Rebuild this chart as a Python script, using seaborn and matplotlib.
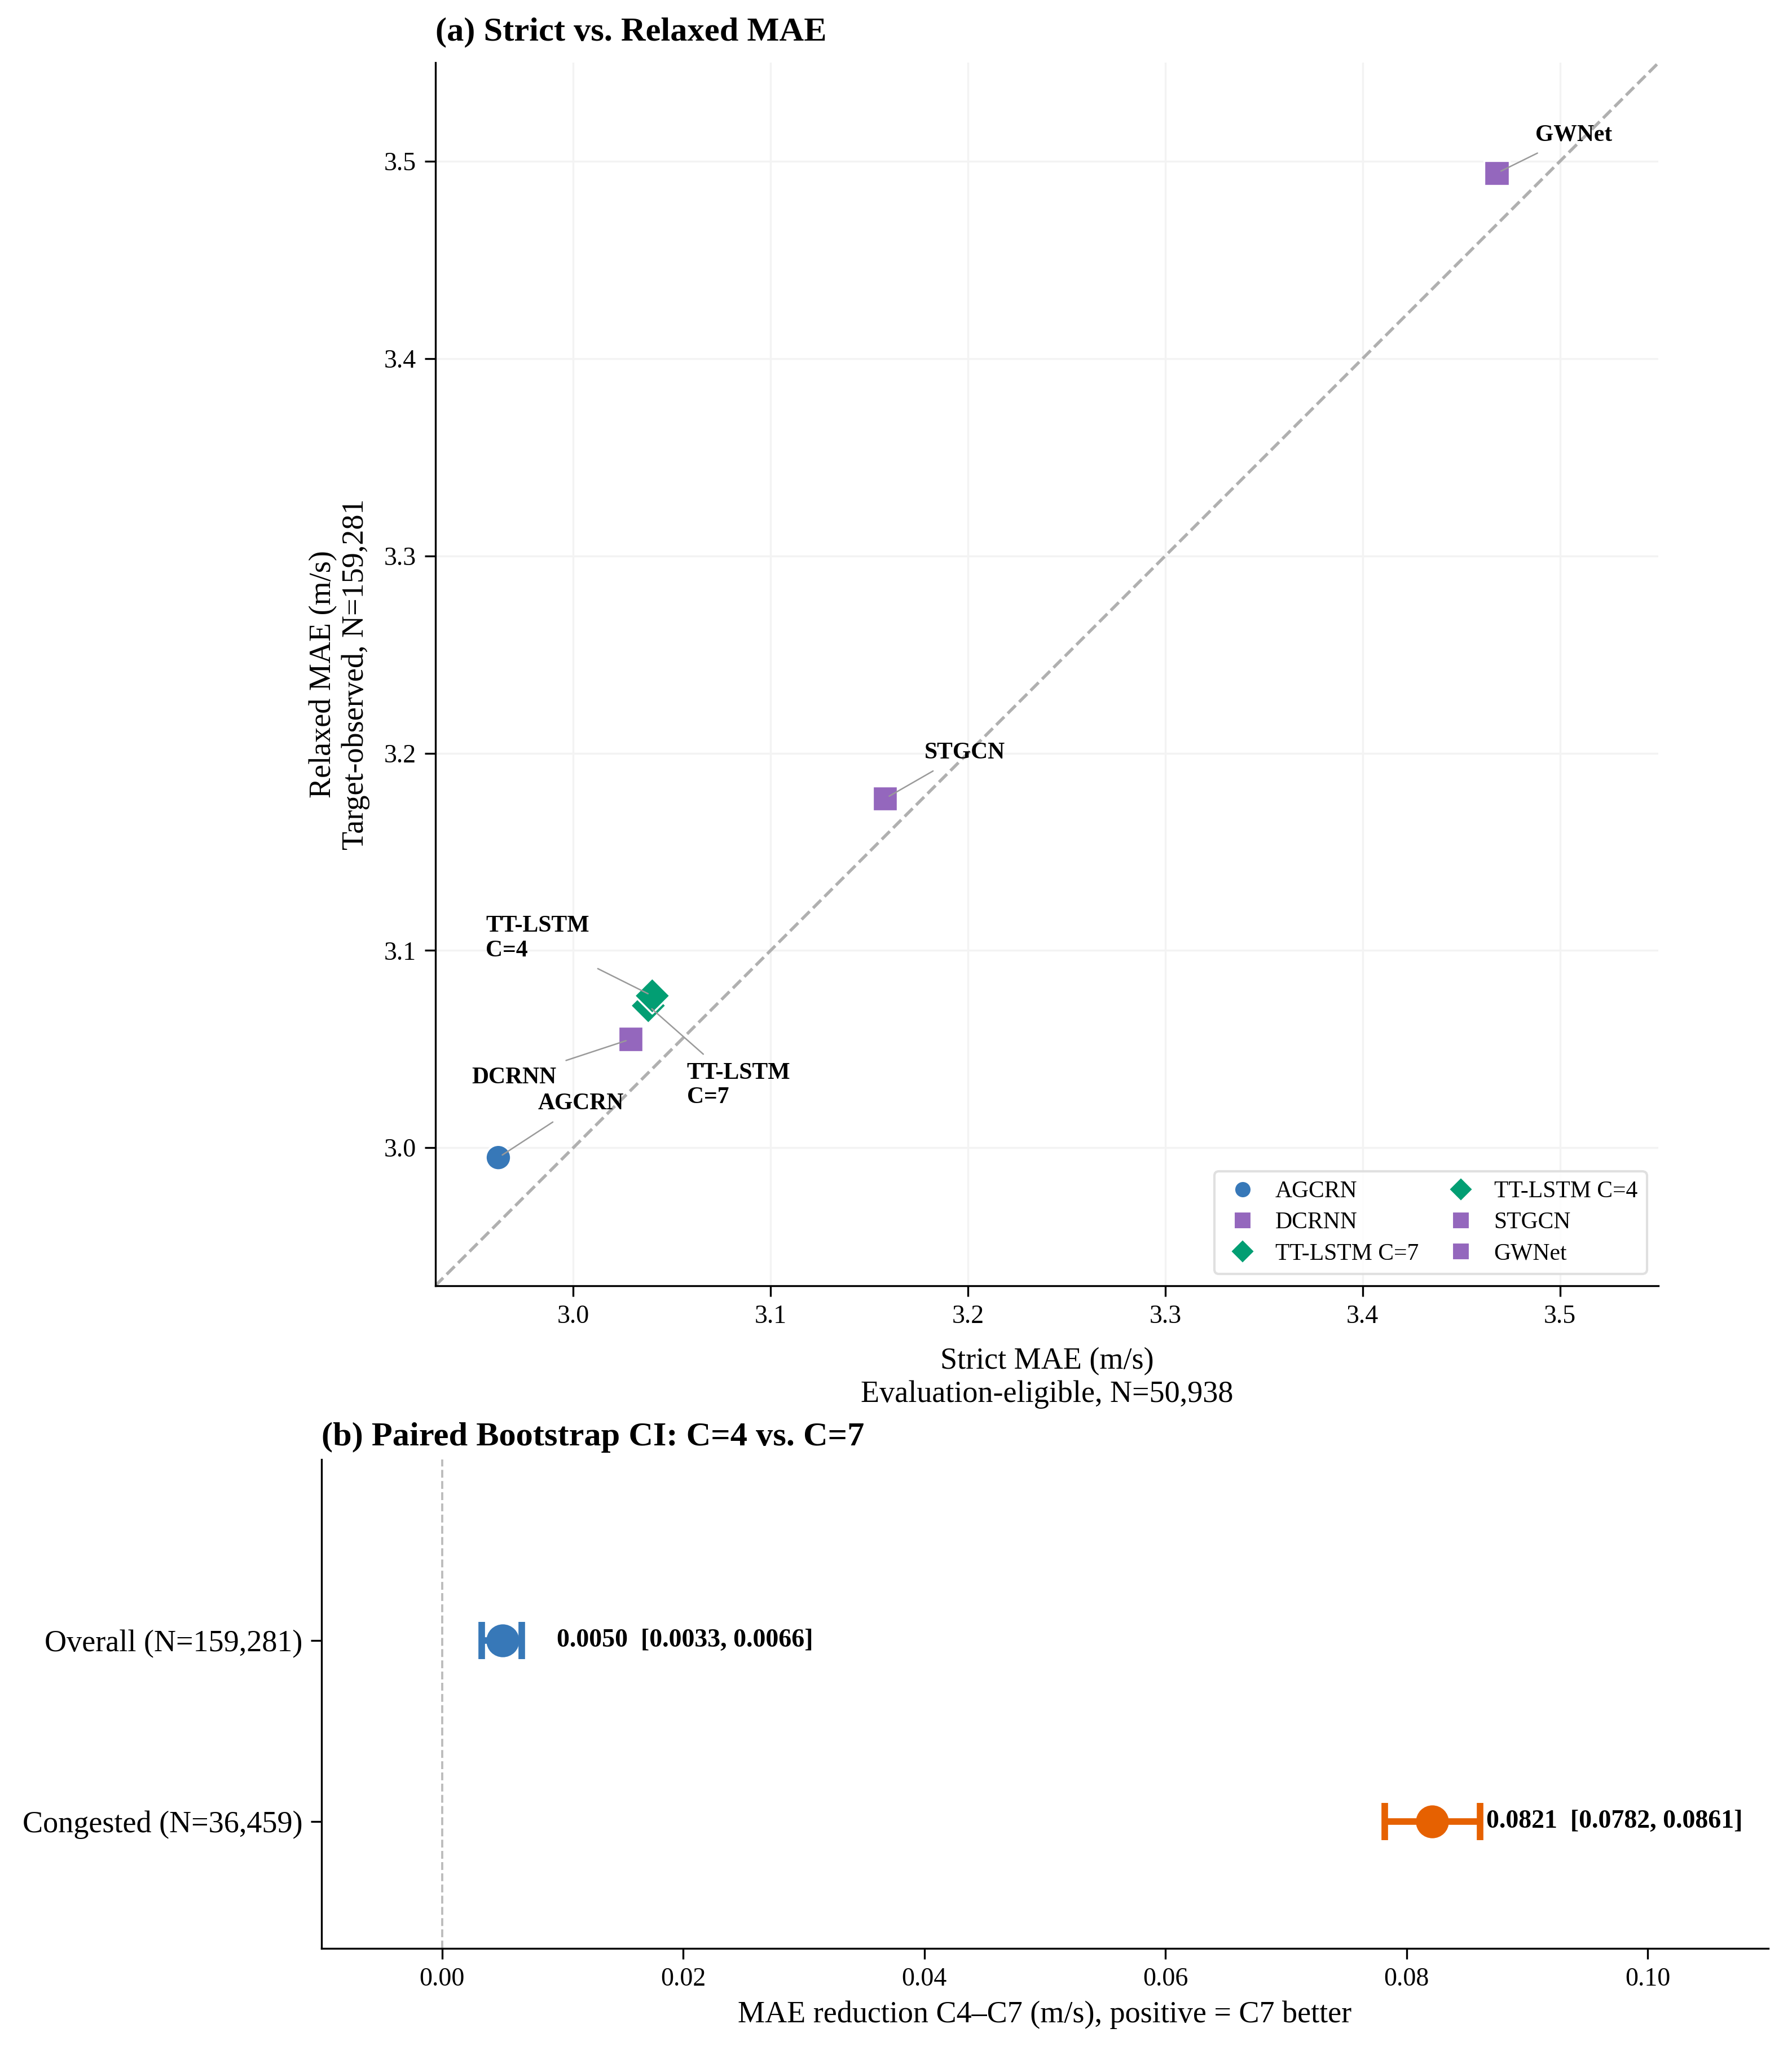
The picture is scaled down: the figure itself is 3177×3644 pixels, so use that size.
import matplotlib
matplotlib.use("Agg")
import matplotlib.pyplot as plt
from matplotlib.lines import Line2D
import seaborn as sns
import pandas as pd

# ---------------- data ----------------
models = ["AGCRN", "DCRNN", "TT-LSTM C=7", "TT-LSTM C=4", "STGCN", "GWNet"]
strict_mae = [2.962, 3.029, 3.038, 3.040, 3.158, 3.468]
relaxed_mae = [2.995, 3.055, 3.072, 3.077, 3.177, 3.494]
point_labels = ["AGCRN", "DCRNN", "TT-LSTM\nC=7", "TT-LSTM\nC=4", "STGCN", "GWNet"]
ticks_a = [3.0, 3.1, 3.2, 3.3, 3.4, 3.5]

ci_groups = ["Overall (N=159,281)", "Congested (N=36,459)"]
ci_mean = [0.0050, 0.0821]
ci_low = [0.0033, 0.0782]
ci_high = [0.0066, 0.0861]
ticks_b = [0.00, 0.02, 0.04, 0.06, 0.08, 0.10]

# ---------------- style ----------------
sns.set_theme(style="ticks")
plt.rcParams["font.family"] = ["Liberation Serif", "DejaVu Serif"]
plt.rcParams["axes.edgecolor"] = "black"
plt.rcParams["axes.linewidth"] = 0.8
plt.rcParams["xtick.color"] = "black"
plt.rcParams["ytick.color"] = "black"
plt.rcParams["text.color"] = "black"
plt.rcParams["axes.labelcolor"] = "black"

BLUE = "#3778b8"
PURPLE = "#9467bd"
GREEN = "#029e73"
ORANGE = "#e66101"
palette = {"AGCRN": BLUE, "DCRNN": PURPLE, "TT-LSTM C=7": GREEN,
           "TT-LSTM C=4": GREEN, "STGCN": PURPLE, "GWNet": PURPLE}
marker_map = {"AGCRN": "o", "DCRNN": "s", "TT-LSTM C=7": "D",
              "TT-LSTM C=4": "D", "STGCN": "s", "GWNet": "s"}
label_offsets = {"AGCRN": (16.8, 22.9), "DCRNN": (-67.5, -16.3),
                 "TT-LSTM C=7": (16.4, -33.9), "TT-LSTM C=4": (-70.9, 24.4),
                 "STGCN": (16.6, 19.4), "GWNet": (16.3, 16.1)}

fig = plt.figure(figsize=(3177 / 300, 3644 / 300), dpi=300)
ax_a = fig.add_axes([0.2427, 0.3743, 0.6830, 0.5952])
ax_b = fig.add_axes([0.1794, 0.0519, 0.8074, 0.2379])

# ---------------- panel (a) ----------------
df = pd.DataFrame({"model": models, "strict": strict_mae, "relaxed": relaxed_mae,
                   "label": point_labels})
lim = (2.93, 3.55)
ax_a.plot(lim, lim, ls="--", color="#b0b0b0", lw=1.3, zorder=1)
sns.scatterplot(data=df, x="strict", y="relaxed", hue="model", style="model",
                hue_order=models, style_order=models, palette=palette,
                markers=marker_map, s=115, edgecolor="white", linewidth=0.8,
                legend=False, ax=ax_a, zorder=3)
for _, r in df.iterrows():
    ax_a.annotate(r["label"], xy=(r["strict"], r["relaxed"]),
                  xytext=label_offsets[r["model"]], textcoords="offset points",
                  ha="left", va="center", fontsize=10, fontweight="bold",
                  arrowprops=dict(arrowstyle="-", color="#9a9a9a", lw=0.6),
                  zorder=4)
ax_a.set_xlim(lim)
ax_a.set_ylim(lim)
ax_a.set_aspect("equal")
ax_a.set_xticks(ticks_a)
ax_a.set_yticks(ticks_a)
ax_a.set_xticklabels([f"{t:.1f}" for t in ticks_a])
ax_a.set_yticklabels([f"{t:.1f}" for t in ticks_a])
ax_a.tick_params(labelsize=11, length=4.5, width=0.8)
ax_a.grid(True, color="#f3f3f3", lw=0.8)
ax_a.set_axisbelow(True)
ax_a.set_xlabel("Strict MAE (m/s)\nEvaluation-eligible, N=50,938", fontsize=13, labelpad=8)
ax_a.set_ylabel("Relaxed MAE (m/s)\nTarget-observed, N=159,281", fontsize=13, labelpad=6)
ax_a.set_title("(a) Strict vs. Relaxed MAE", loc="left", fontsize=14.5,
               fontweight="bold", pad=9.5)
handles = [Line2D([], [], ls="", marker=marker_map[m], color=palette[m], markersize=7,
                  markeredgecolor="white", markeredgewidth=0.5) for m in models]
ax_a.legend(handles, models, loc="lower right", ncol=2, fontsize=10, frameon=True,
            edgecolor="#dddddd", framealpha=0.9, labelspacing=0.4, handlelength=1.6,
            handletextpad=0.6, columnspacing=1.0)
sns.despine(ax=ax_a)

# ---------------- panel (b) ----------------
colors_b = [BLUE, ORANGE]
text_pad = [0.0029, 0.0005]
ax_b.axvline(0, ls="--", color="#bbbbbb", lw=0.9, zorder=1)
for i, (m, lo, hi) in enumerate(zip(ci_mean, ci_low, ci_high)):
    ax_b.errorbar([m], [i], xerr=[[m - lo], [hi - m]], fmt="o", color=colors_b[i],
                  markersize=13, elinewidth=2.8, capsize=8, capthick=2.8, zorder=3)
    ax_b.text(hi + text_pad[i], i, f"{m:.4f}  [{lo:.4f}, {hi:.4f}]", ha="left",
              va="center", fontsize=11, fontweight="bold")
ax_b.set_yticks(range(len(ci_groups)))
ax_b.set_yticklabels(ci_groups, fontsize=13)
ax_b.set_ylim(1.7, -1.0)
ax_b.set_xlim(-0.01, 0.11)
ax_b.set_xticks(ticks_b)
ax_b.set_xticklabels([f"{t:.2f}" for t in ticks_b], fontsize=11)
ax_b.tick_params(length=4.5, width=0.8)
ax_b.set_xlabel("MAE reduction C4\u2013C7 (m/s), positive = C7 better", fontsize=13, labelpad=4)
ax_b.set_title("(b) Paired Bootstrap CI: C=4 vs. C=7", loc="left", fontsize=14.5,
               fontweight="bold", pad=6)
sns.despine(ax=ax_b)

fig.savefig("out.png", dpi=300)
